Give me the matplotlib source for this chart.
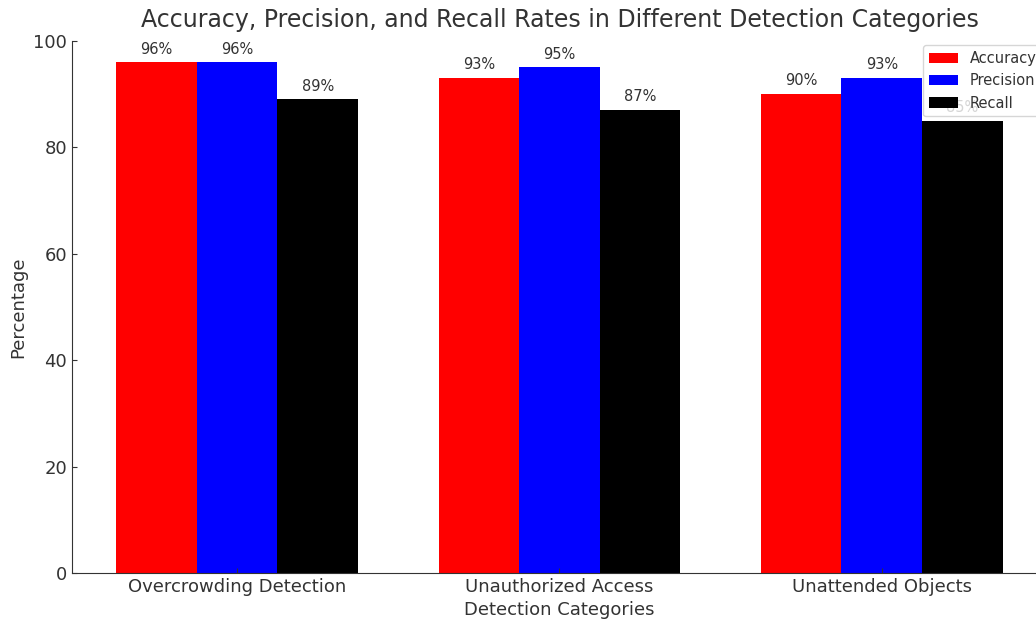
import matplotlib.pyplot as plt
import numpy as np

categories = ["Overcrowding Detection", "Unauthorized Access", "Unattended Objects"]
accuracy = [96, 93, 90]
precision = [96, 95, 93]
recall = [89, 87, 85]
series_names = ["Accuracy", "Precision", "Recall"]
series_colors = ["red", "blue", "black"]

txt = "#333333"
plt.rcParams['font.family'] = ['DejaVu Sans']
fig = plt.figure(figsize=(10.36, 6.21), dpi=100)
ax = fig.add_axes([0.0695, 0.0773, 0.941, 0.857])

x = np.arange(len(categories))
w = 0.25
for i, (vals, name, col) in enumerate(zip([accuracy, precision, recall], series_names, series_colors)):
    bars = ax.bar(x + (i - 1) * w, vals, w, label=name, color=col)
    for b, v in zip(bars, vals):
        ax.annotate(f"{v}%", (b.get_x() + b.get_width() / 2, v), xytext=(0, 4),
                    textcoords="offset points", ha="center", va="bottom",
                    fontsize=10.5, color=txt)

ax.set_ylim(0, 100)
ax.set_xticks(x)
ax.set_xticklabels(categories, fontsize=13, color=txt)
ax.tick_params(axis='both', direction='in', colors=txt, labelsize=13, labelcolor=txt)
ax.set_ylabel("Percentage", fontsize=13, color=txt)
ax.set_xlabel("Detection Categories", fontsize=13, color=txt, labelpad=4)
ax.set_title("Accuracy, Precision, and Recall Rates in Different Detection Categories",
             fontsize=17, color=txt, pad=10)
for s in ['top', 'right']:
    ax.spines[s].set_visible(False)
for s in ['left', 'bottom']:
    ax.spines[s].set_color(txt)
ax.legend(loc='upper right', fontsize=10.5, labelcolor=txt, borderaxespad=0.3)

fig.savefig("out.png", dpi=100)
